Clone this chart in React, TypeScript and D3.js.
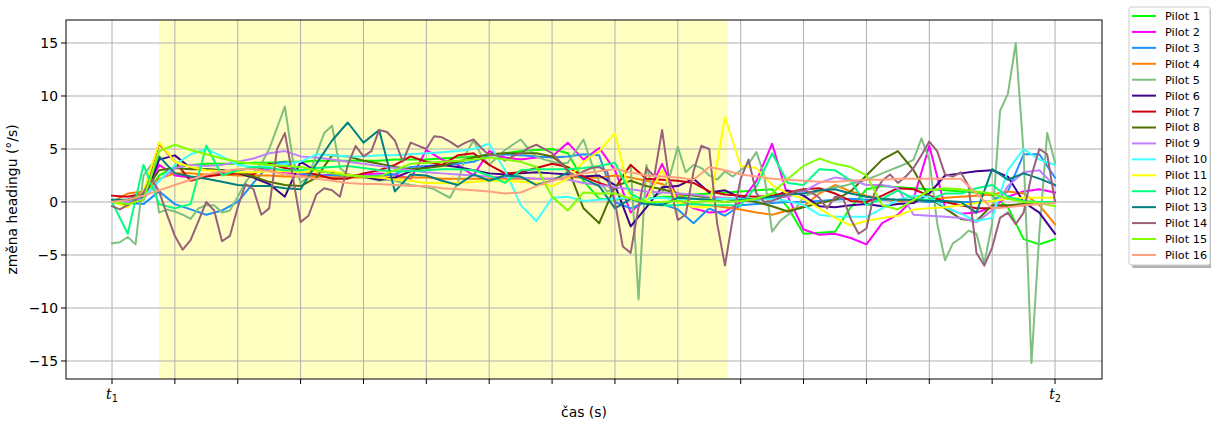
import React from "react";
import * as d3 from "d3";

const pilotNames = [
  "Pilot 1", "Pilot 2", "Pilot 3", "Pilot 4", "Pilot 5", "Pilot 6", "Pilot 7", "Pilot 8",
  "Pilot 9", "Pilot 10", "Pilot 11", "Pilot 12", "Pilot 13", "Pilot 14", "Pilot 15", "Pilot 16",
];

const pilotColors = [
  "#00ff00", "#ff00ff", "#1e90ff", "#ff7f00", "#7fbf7f", "#400090", "#cc0011", "#507000",
  "#bf80ff", "#40ffff", "#ffff00", "#00ff80", "#008080", "#99607a", "#80ff00", "#ffa080",
];

const pilot1 = [0.2, 0.1, 0.3, 2.5, 3.3, 3.5, 3.6, 3.6, 3.6, 3.7,
  3.7, 3.8, 3.8, 3.9, 3.9, 3.9, 3.9, 3.9, 4.0, 4.0,
  4.0, 4.1, 4.2, 4.3, 4.4, 4.6, 4.8, 4.9, 5.0, 4.6,
  2.0, 0.3, 0.2, 0.4, 0.3, 0.5, 0.5, 0.7, 0.8, 0.9,
  1.0, 1.1, 1.2, -0.5, -3.0, -2.9, -2.8, -0.5, 1.2, 1.5,
  1.4, 1.3, 1.2, 1.1, 1.0, 0.9, 0.6, -0.5, -3.5, -4.0,
  -3.5];
const pilot2 = [0.0, -0.2, 0.3, 3.5, 2.5, 2.3, 2.5, 2.8, 3.0, 3.2,
  3.0, 2.8, 2.6, 2.5, 2.6, 2.5, 2.6, 2.7, 2.6, 2.2,
  4.9, 4.0, 3.5, 2.5, 4.8, 4.2, 4.0, 4.2, 4.3, 5.6,
  4.0, 5.1, 3.0, -1.0, 0.5, 3.6, 0.3, -0.6, -1.0, -0.9,
  0.0, 2.0, 5.5, 0.5, -2.6, -3.1, -3.0, -3.4, -4.0, -2.0,
  -1.2, 0.3, 5.3, -0.5, -1.1, -1.0, -0.5, 0.5, 1.0, 1.2,
  0.9];
const pilot3 = [0.0, -0.1, -0.2, 1.0, -0.2, -0.7, -1.2, -0.8, 0.0, 1.8,
  3.5, 3.8, 2.7, 2.5, 2.5, 2.4, 2.4, 2.5, 2.6, 3.3,
  3.4, 3.5, 3.6, 3.8, 4.4, 4.5, 4.4, 4.3, 4.2, 4.3,
  4.5, 4.4, 0.0, -0.6, 0.0, -0.2, -0.7, -2.0, -0.6, -1.3,
  -0.3, -0.2, -0.1, 0.0, 0.0, 0.1, 0.2, 0.3, 0.2, 0.2,
  0.1, 0.1, 0.0, 0.0, 0.0, 0.0, 0.1, 1.0, 4.5, 4.5,
  2.3];
const pilot4 = [0.0, 0.8, 1.0, 2.2, 2.7, 2.7, 2.6, 2.6, 2.5, 2.5,
  2.5, 2.4, 2.4, 2.4, 2.3, 2.3, 2.3, 2.3, 2.3, 2.3,
  2.3, 2.2, 2.2, 2.2, 2.2, 2.2, 2.2, 2.2, 2.2, 2.3,
  2.3, 2.3, 2.5, 2.3, 2.0, 1.7, 0.8, -0.2, -0.3, -0.5,
  -0.7, -1.0, -1.2, -0.8, -0.4, 0.8, 1.6, 1.0, 0.6, 0.3,
  0.1, 0.1, 0.2, 0.4, 0.5, 0.6, 0.7, 1.0, 0.8, -0.3,
  -2.1];
const pilot5 = [-3.9, -3.8, -3.3, -4.0, 2.5, 3.5, -1.0, -0.7, -0.9, -1.2,
  -1.6, -0.6, -0.3, -0.3, -1.0, -0.8, 0.5, 1.9, 2.8, 3.6,
  5.0, 7.0, 9.0, 4.0, 1.8, 2.4, 4.5, 6.5, 7.2, 3.2,
  2.6, 2.5, 2.3, 2.2, 2.0, 2.1, 2.0, 1.8, 1.6, 1.5,
  1.4, 1.2, 0.8, 0.4, 1.8, 4.5, 5.8, 4.4, 3.5, 4.2,
  4.9, 5.4, 5.9, 5.0, 4.3, 4.0, 3.8, 3.6, 3.7, 4.8,
  5.9, 3.7, 1.9, 1.0, 1.2, 2.5, 3.5, -9.2, 3.5, 0.5,
  0.9, 2.5, 5.2, 2.8, 3.5, 3.2, 2.5, 2.1, 2.9, 2.4,
  3.0, 3.6, 4.7, 2.5, -2.8, -1.8, -1.2, -0.6, 0.5, 0.8,
  1.0, 1.2, 1.4, 1.5, 1.7, 1.9, 2.1, 2.4, 2.7, 3.0,
  3.3, 3.6, 4.0, 6.0, 4.0, -2.0, -5.5, -3.9, -3.4, -2.7,
  -3.0, -5.8, -2.0, 8.6, 10.2, 15.0, 4.6, -15.2, -3.0, 6.5,
  3.7];
const pilot6 = [0.0, -0.2, 0.2, 4.0, 4.4, 3.2, 3.1, 3.0, 2.7, 2.3,
  1.7, 0.5, 3.8, 2.9, 2.8, 2.6, 2.4, 2.1, 2.3, 2.9,
  3.3, 3.5, 3.3, 3.0, 2.7, 2.6, 2.7, 2.8, 2.7, 2.6,
  2.4, 2.5, 1.6, -2.3, -0.5, 1.4, 1.5, 2.2, 0.9, 1.1,
  0.4, 0.2, 0.4, 1.1, 0.6, -0.4, -0.5, -0.3, -0.2, -0.4,
  -0.2, -0.1, 0.8, 2.5, 2.7, 2.9, 3.0, 2.4, 0.0, -1.0,
  -3.0];
const pilot7 = [0.6, 0.5, 0.8, 5.5, 3.8, 2.0, 2.4, 2.6, 2.7, 2.6,
  3.6, 3.2, 2.9, 2.6, 2.2, 2.2, 2.7, 3.0, 3.5, 4.3,
  3.8, 3.5, 4.4, 4.6, 3.5, 2.7, 2.8, 3.2, 3.6, 3.3,
  2.4, 1.8, 1.3, 3.5, 2.2, 2.1, 2.0, 1.8, 1.0, 0.7,
  0.6, 0.5, 0.6, 0.9, 1.2, 1.3, 0.8, 0.1, 0.0, 0.6,
  1.3, 1.2, 0.6, 0.0, -0.3, -0.6, -0.6, -0.4, -0.3, -0.1,
  0.0];
const pilot8 = [0.0, 0.2, 0.8, 3.0, 3.2, 3.1, 3.1, 3.0, 2.8, 2.4,
  1.9, 1.6, 1.5, 2.3, 4.4, 4.3, 3.9, 3.6, 3.3, 3.1,
  3.2, 3.4, 3.8, 4.2, 4.5, 4.6, 4.6, 4.6, 4.3, 3.2,
  -0.6, -2.0, 1.5, 2.0, 1.5, 1.2, 0.8, 0.6, 0.4, 0.3,
  0.2, 0.0, -0.4, -0.9, -0.5, -0.1, 0.2, 1.0, 2.5, 4.0,
  4.8, 3.0, 0.4, -0.6, -1.6, -1.8, -0.3, -0.3, -0.2, -0.1,
  0.0];
const pilot9 = [0.0, 0.0, 0.3, 2.0, 3.2, 3.5, 3.4, 3.5, 3.8, 4.1,
  4.6, 4.8, 4.3, 4.2, 4.0, 3.8, 3.6, 3.4, 3.2, 3.0,
  2.8, 2.7, 2.6, 2.5, 2.4, 2.3, 2.3, 2.2, 2.2, 2.1,
  1.8, 1.6, 1.4, 1.2, 1.0, 0.9, 0.8, 0.7, 0.5, 0.4,
  0.3, 0.3, 0.4, 0.5, 1.0, 1.8, 2.3, 2.1, 1.6, 1.6,
  1.3, -1.2, -1.3, -1.4, -1.5, -1.9, -0.8, 1.5, 2.8, 3.0,
  1.5];
const pilot10 = [0.0, 0.2, 0.5, 2.0, 3.5, 4.5, 5.0, 4.3, 3.5, 3.3,
  3.4, 3.6, 3.8, 4.5, 4.4, 4.3, 4.3, 4.4, 4.4, 4.5,
  4.6, 4.7, 4.8, 5.0, 5.5, 3.0, -0.3, -1.8, 0.4, 0.5,
  0.1, 0.2, 0.3, 0.4, 0.3, 0.4, 0.2, 0.3, 0.2, 0.3,
  0.3, 0.2, 0.3, 0.1, -0.3, -1.2, -1.4, -1.4, -1.4, -0.6,
  0.2, 0.6, 0.5, -0.5, -1.1, -1.8, -1.5, 3.0, 5.0, 4.0,
  3.5];
const pilot11 = [0.0, -0.5, 1.0, 5.6, 3.8, 3.3, 3.0, 2.9, 2.8, 2.8,
  2.9, 2.9, 2.8, 2.9, 2.9, 2.6, 2.4, 2.3, 2.1, 2.0,
  1.8, 1.8, 1.8, 1.9, 2.0, 2.0, 1.9, 1.8, 1.5, 2.2,
  3.8, 4.8, 6.5, 0.3, 0.2, 3.0, 0.0, -0.5, -0.5, 8.0,
  3.4, 3.2, 1.6, 0.8, 0.3, -0.6, -1.5, -2.2, -1.8, -1.5,
  -1.3, -0.7, -0.6, -0.5, -0.3, -0.1, 0.1, 0.3, 0.4, 0.4,
  0.4];
const pilot12 = [0.0, -3.0, 3.5, -0.2, -0.6, -0.2, 5.3, 2.5, 3.0, 3.3,
  3.2, 3.0, 3.0, 3.2, 3.3, 3.4, 3.2, 3.0, 2.9, 2.9,
  3.0, 3.1, 3.1, 3.0, 2.5, 1.8, 3.0, 3.1, 3.1, 3.1,
  3.2, 3.4, 3.7, 0.8, 0.0, -0.3, -0.3, -0.2, -0.3, -0.3,
  -0.3, 1.5, 4.6, 1.8, 1.6, 3.1, 3.0, 2.0, -0.3, 0.3,
  1.1, 0.3, 0.2, 0.8, 0.8, 1.3, 1.6, 0.5, 0.1, 0.0,
  0.0];
const pilot13 = [0.2, 0.2, 0.5, 4.3, 2.7, 2.4, 2.2, 1.9, 1.6, 1.5,
  1.5, 1.3, 1.2, 3.6, 5.8, 7.5, 5.6, 6.8, 1.0, 2.6,
  2.5, 2.0, 1.6, 2.6, 2.0, 2.5, 2.4, 1.6, 2.0, 2.8,
  2.2, 1.5, -0.6, 0.3, -0.2, -0.3, 0.4, 0.3, 0.2, 0.0,
  0.2, 0.3, 0.5, 0.7, 0.8, 1.1, 1.2, 0.8, 0.5, 0.3,
  0.2, 0.2, 0.1, 0.1, 0.0, -1.0, 3.1, 2.1, 2.7, 2.2,
  1.6];
const pilot14 = [-0.4, -0.7, -0.3, 0.2, 0.9, 2.2, 1.0, -1.2, -3.2, -4.5,
  -3.6, -1.8, 0.0, -0.8, -3.7, -3.2, -0.5, 1.7, 1.2, -1.2,
  -0.6, 5.0, 6.5, 2.4, -1.9, -1.3, 0.7, 1.3, 1.1, 0.5,
  3.5, 5.3, 4.3, 4.8, 6.8, 6.6, 5.8, 3.8, 5.6, 5.3,
  5.0, 6.2, 6.1, 5.7, 5.2, 5.6, 5.9, 5.1, 4.4, 4.4,
  3.9, 4.3, 4.6, 5.1, 5.4, 5.0, 4.6, 3.8, 2.9, 2.4,
  2.9, 3.2, 3.3, 2.9, 0.0, -4.2, -4.8, -0.5, 3.2, 2.4,
  6.8, 1.5, -1.7, -1.2, 2.9, 5.3, 5.0, -2.0, -6.0, -1.5,
  2.2, 4.0, 0.8, 0.0, 0.1, 0.4, 0.7, 1.0, 1.1, 0.9,
  0.4, -0.6, 0.5, 0.4, -1.6, -3.0, -2.5, 0.8, 2.0, 2.6,
  1.8, 2.4, 3.2, 4.4, 5.7, 4.8, 2.6, 2.4, 2.8, 1.5,
  -4.8, -6.0, -4.3, -1.5, -1.0, -2.1, -1.0, 2.5, 5.0, 4.5,
  0.0];
const pilot15 = [0.0, -0.2, 0.2, 4.8, 5.4, 4.9, 4.5, 4.1, 3.8, 3.6,
  3.5, 3.4, 3.3, 3.0, 2.7, 2.5, 2.4, 2.4, 3.0, 3.6,
  3.7, 3.8, 3.9, 4.0, 4.2, 4.0, 3.8, 3.3, 0.5, -0.8,
  0.9, 0.8, 0.8, 0.3, 0.0, 0.0, 0.1, 0.0, 0.1, 0.0,
  0.1, 0.3, 0.8, 2.2, 3.4, 4.1, 3.6, 3.3, 2.5, -0.3,
  -0.7, 0.2, 1.1, 1.3, 1.2, 1.0, 0.8, 0.3, 0.0, -0.1,
  -0.4];
const pilot16 = [0.0, 0.2, 0.6, 1.1, 1.6, 2.1, 2.6, 2.9, 3.1, 3.1,
  2.9, 2.6, 2.4, 2.2, 2.0, 1.8, 1.7, 1.7, 1.6, 1.5,
  1.5, 1.3, 1.2, 1.1, 1.0, 0.8, 0.9, 1.5, 2.0, 2.4,
  2.7, 2.9, 3.1, 2.8, 2.5, 2.4, 2.3, 2.1, 3.3, 3.0,
  2.6, 2.4, 2.2, 2.1, 2.0, 1.9, 1.9, 2.0, 2.1, 2.1,
  2.2, 2.2, 2.2, 2.2, 2.2, 0.8, -0.6, -0.5, -0.3, -0.2,
  -0.1];

const seriesValues = [
  pilot1, pilot2, pilot3, pilot4, pilot5, pilot6, pilot7, pilot8,
  pilot9, pilot10, pilot11, pilot12, pilot13, pilot14, pilot15, pilot16,
];

// time axis: t1 = 0, t2 = 15 (in tick units)
const tStart = 0;
const tEnd = 15;
const highlightStart = 0.748;
const highlightEnd = 9.8;
const xTicks = d3.range(0, 16);
const xTickLabels: Record<number, string> = { 0: "1", 15: "2" };
const yTicks = [-15, -10, -5, 0, 5, 10, 15];

const FONT = "DejaVu Sans, Verdana, sans-serif";

export default function App() {
  const left = 66, right = 1102, top = 20, bottom = 379;
  const x = d3.scaleLinear().domain([-0.7317, 15.747]).range([left, right]);
  const y = d3.scaleLinear().domain([-16.7, 17.17]).range([bottom, top]);

  const line = d3
    .line<[number, number]>()
    .x((d) => x(d[0]))
    .y((d) => y(d[1]));

  const paths = seriesValues.map((vals) => {
    const n = vals.length;
    const pts: [number, number][] = vals.map((v, i) => [tStart + (i * (tEnd - tStart)) / (n - 1), v]);
    return line(pts) || "";
  });

  const legX = 1129, legY = 7, legW = 81, legH = 258;
  const rowH = 15.93;

  return (
    <svg
      width={1211}
      height={421}
      style={{ position: "fixed", left: 0, top: 0, background: "#fff" }}
      fontFamily={FONT}
    >
      <defs>
        <clipPath id="plotclip">
          <rect x={left} y={top} width={right - left} height={bottom - top} />
        </clipPath>
      </defs>
      <rect x={0} y={0} width={1211} height={421} fill="#fff" />
      {/* highlight span */}
      <rect
        x={x(highlightStart)}
        y={top}
        width={x(highlightEnd) - x(highlightStart)}
        height={bottom - top}
        fill="#ffffc2"
      />
      {/* grid */}
      <g stroke="#b0b0b0" strokeWidth={1}>
        {xTicks.map((t) => (
          <line key={"gx" + t} x1={x(t)} x2={x(t)} y1={top} y2={bottom} />
        ))}
        {yTicks.map((t) => (
          <line key={"gy" + t} x1={left} x2={right} y1={y(t)} y2={y(t)} />
        ))}
      </g>
      {/* series */}
      <g clipPath="url(#plotclip)" fill="none" strokeWidth={2} strokeLinejoin="round" strokeLinecap="square">
        {paths.map((d, i) => (
          <path key={"s" + i} d={d} stroke={pilotColors[i]} />
        ))}
      </g>
      {/* frame */}
      <rect x={left} y={top} width={right - left} height={bottom - top} fill="none" stroke="#000" strokeWidth={1} />
      {/* x ticks */}
      <g>
        {xTicks.map((t) => (
          <line key={"xt" + t} x1={x(t)} x2={x(t)} y1={bottom} y2={bottom + 5} stroke="#000" strokeWidth={1} />
        ))}
        {xTicks
          .filter((t) => xTickLabels[t] !== undefined)
          .map((t) => (
            <text key={"xl" + t} x={x(t)} y={399} textAnchor="middle" fontSize={13.9} fill="#000">
              <tspan fontStyle="italic" fontFamily="DejaVu Serif, serif">t</tspan>
              <tspan fontSize={9.7} dy={3}>{xTickLabels[t]}</tspan>
            </text>
          ))}
      </g>
      {/* y ticks */}
      <g>
        {yTicks.map((t) => (
          <g key={"yt" + t}>
            <line x1={left - 5} x2={left} y1={y(t)} y2={y(t)} stroke="#000" strokeWidth={1} />
            <text x={left - 8} y={y(t)} dy="0.35em" textAnchor="end" fontSize={13.9} fill="#000">
              {t < 0 ? "\u2212" + Math.abs(t) : String(t)}
            </text>
          </g>
        ))}
      </g>
      {/* axis labels */}
      <text x={(left + right) / 2} y={417} textAnchor="middle" fontSize={13.9} fill="#000">
        čas (s)
      </text>
      <text
        transform={`translate(17, ${(top + bottom) / 2}) rotate(-90)`}
        textAnchor="middle"
        fontSize={13.9}
        fill="#000"
      >
        změna headingu (°/s)
      </text>
      {/* legend */}
      <rect x={legX + 3} y={legY + 3} width={legW} height={legH} rx={2} fill="#000" opacity={0.3} />
      <rect x={legX} y={legY} width={legW} height={legH} rx={2} fill="#fff" stroke="#cccccc" strokeWidth={1} />
      {pilotNames.map((name, i) => {
        const cy = legY + 9 + i * rowH;
        return (
          <g key={"lg" + i}>
            <line x1={legX + 3} x2={legX + 27} y1={cy} y2={cy} stroke={pilotColors[i]} strokeWidth={2} />
            <text x={legX + 36} y={cy} dy="0.35em" fontSize={11.3} fill="#000">
              {name}
            </text>
          </g>
        );
      })}
    </svg>
  );
}
